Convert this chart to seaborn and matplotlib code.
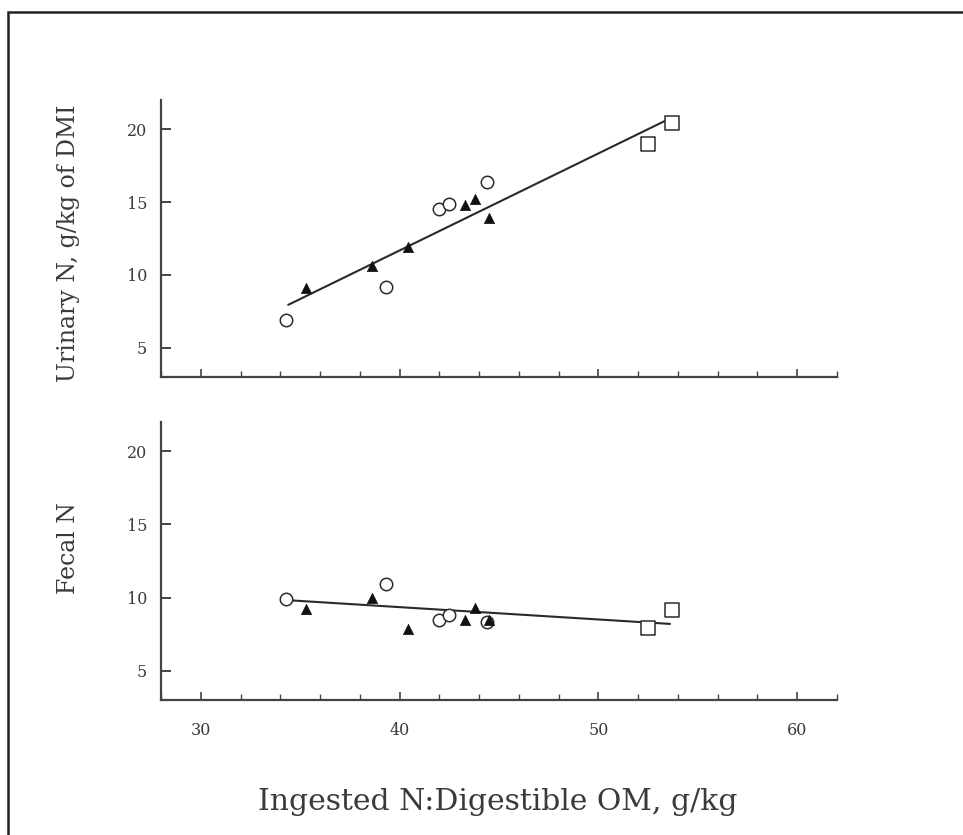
import matplotlib
matplotlib.use("Agg")
import matplotlib.pyplot as plt
from matplotlib.patches import Rectangle
from matplotlib.ticker import MultipleLocator
import seaborn as sns
import pandas as pd

# ---- data ----
x_circle = [34.3, 39.3, 42.0, 42.5, 44.4]
urinary_circle = [6.9, 9.2, 14.5, 14.9, 16.4]
fecal_circle = [9.9, 10.9, 8.45, 8.8, 8.3]

x_square = [52.5, 53.7]
urinary_square = [19.0, 20.4]
fecal_square = [7.95, 9.15]

x_triangle = [35.3, 38.6, 40.4, 43.3, 43.8, 44.5]
urinary_triangle = [9.1, 10.6, 11.9, 14.8, 15.2, 13.9]
fecal_triangle = [9.2, 10.0, 7.85, 8.45, 9.3, 8.5]

fit_x_urinary = [34.4, 53.7]
fit_y_urinary = [7.95, 20.8]
fit_x_fecal = [34.4, 53.6]
fit_y_fecal = [9.82, 8.2]

x_ticklabels = [30, 40, 50, 60]
y_ticklabels = [5, 10, 15, 20]

xlabel = "Ingested N:Digestible OM, g/kg"
ylabel_top = "Urinary N, g/kg of DMI"
ylabel_bottom = "Fecal N"

# ---- styling ----
sns.set_theme(style="white")
plt.rcParams["font.family"] = ["DejaVu Serif"]
TXT = "#3a3a3a"
INK = "#2a2a2a"

W, H = 963, 835
fig = plt.figure(figsize=(W / 100, H / 100), dpi=100)
fig.patch.set_facecolor("white")

left = 161 / W
width = (837 - 161) / W
ax_top = fig.add_axes([left, 1 - 377 / H, width, 277 / H])
ax_bot = fig.add_axes([left, 1 - 700 / H, width, 278 / H])


def draw(ax, yc, ys, yt, fx, fy):
    dc = pd.DataFrame({"x": x_circle, "y": yc})
    ds = pd.DataFrame({"x": x_square, "y": ys})
    dt = pd.DataFrame({"x": x_triangle, "y": yt})
    dl = pd.DataFrame({"x": fx, "y": fy})
    sns.lineplot(data=dl, x="x", y="y", ax=ax, color=INK, lw=1.5)
    sns.scatterplot(data=dc, x="x", y="y", ax=ax, marker="o", s=80,
                    facecolor="white", edgecolor=INK, linewidth=1.1, zorder=3)
    sns.scatterplot(data=ds, x="x", y="y", ax=ax, marker="s", s=90,
                    facecolor="white", edgecolor=INK, linewidth=1.1, zorder=3)
    sns.scatterplot(data=dt, x="x", y="y", ax=ax, marker="^", s=55,
                    color="#111111", edgecolor="#111111", linewidth=0.5, zorder=4)
    ax.set_xlim(28, 62)
    ax.set_ylim(3, 22)
    ax.set_facecolor("white")
    for side in ("top", "right"):
        ax.spines[side].set_visible(False)
    for side in ("left", "bottom"):
        ax.spines[side].set_color("#444444")
        ax.spines[side].set_linewidth(1.6)
    ax.set_yticks(y_ticklabels)
    ax.xaxis.set_major_locator(MultipleLocator(10))
    ax.xaxis.set_minor_locator(MultipleLocator(2))
    ax.tick_params(axis="y", which="major", direction="in", length=7, width=1.4,
                   color="#444444", labelcolor=TXT, labelsize=11.5, pad=10, left=True)
    ax.tick_params(axis="x", which="major", direction="in", length=6, width=1.2,
                   color="#444444", labelcolor=TXT, labelsize=11.5, pad=16, bottom=True)
    ax.tick_params(axis="x", which="minor", direction="in", length=4, width=1.0,
                   color="#444444", bottom=True)
    ax.set_xlabel("")
    ax.set_ylabel("")


draw(ax_top, urinary_circle, urinary_square, urinary_triangle, fit_x_urinary, fit_y_urinary)
draw(ax_bot, fecal_circle, fecal_square, fecal_triangle, fit_x_fecal, fit_y_fecal)

ax_top.set_xticks([30, 40, 50, 60])
ax_top.set_xticklabels([])
ax_bot.set_xticks(x_ticklabels)
ax_bot.set_xticklabels([str(v) for v in x_ticklabels])

fig.text(68 / W, 1 - 243 / H, ylabel_top, rotation=90, ha="center", va="center",
         fontsize=17, color=TXT)
fig.text(68 / W, 1 - 548 / H, ylabel_bottom, rotation=90, ha="center", va="center",
         fontsize=17, color=TXT)
fig.text(498 / W, 1 - 802 / H, xlabel, ha="center", va="center",
         fontsize=21.5, color=TXT)

fig.patches.append(Rectangle((8 / W, -0.1), 1.2, 1 - 12 / H + 0.1,
                             transform=fig.transFigure, fill=False,
                             edgecolor="#222222", linewidth=1.8))

fig.savefig("out.png", dpi=100, facecolor="white")
